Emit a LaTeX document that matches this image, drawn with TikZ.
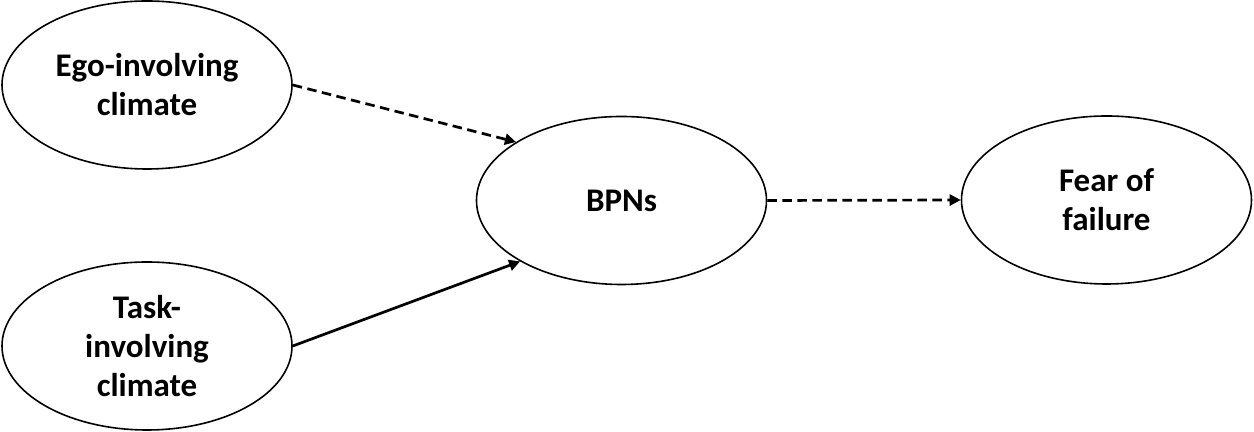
\documentclass[tikz,border=0pt]{standalone}
\usepackage{fontspec}
\setmainfont{Carlito}
\usetikzlibrary{shapes.geometric,arrows.meta}
\begin{document}
\begin{tikzpicture}[
  var/.style={draw,ellipse,line width=0.8pt,minimum width=145pt,minimum height=84pt,
    inner sep=0pt,align=center,font=\fontsize{16.5}{19.5}\selectfont\bfseries},
  path/.style={line width=1.35pt,-{Triangle[length=5.5pt,width=5.5pt]}},
  nopath/.style={path,dash pattern=on 4.75pt off 2.75pt}
]
\useasboundingbox (0,0) rectangle (627pt,216pt);
\coordinate (ego) at (73.5pt,173.5pt);
\coordinate (task) at (73.5pt,43pt);
\coordinate (bpn) at (310.75pt,115.75pt);
\coordinate (fear) at (553.25pt,116pt);


\node[var] (ego) at (ego){Ego-involving\\climate};
\node[var] (task) at (task){Task-\\involving\\climate};
\node[var] (bpn) at (bpn){BPNs};
\node[var] (fear) at (fear){Fear of\\failure};

\draw[nopath] (ego.east)--(bpn.151);
\draw[path] (task.east)--(bpn.211);
\draw[nopath] (bpn.east)--(fear.west);

\end{tikzpicture}
\end{document}
